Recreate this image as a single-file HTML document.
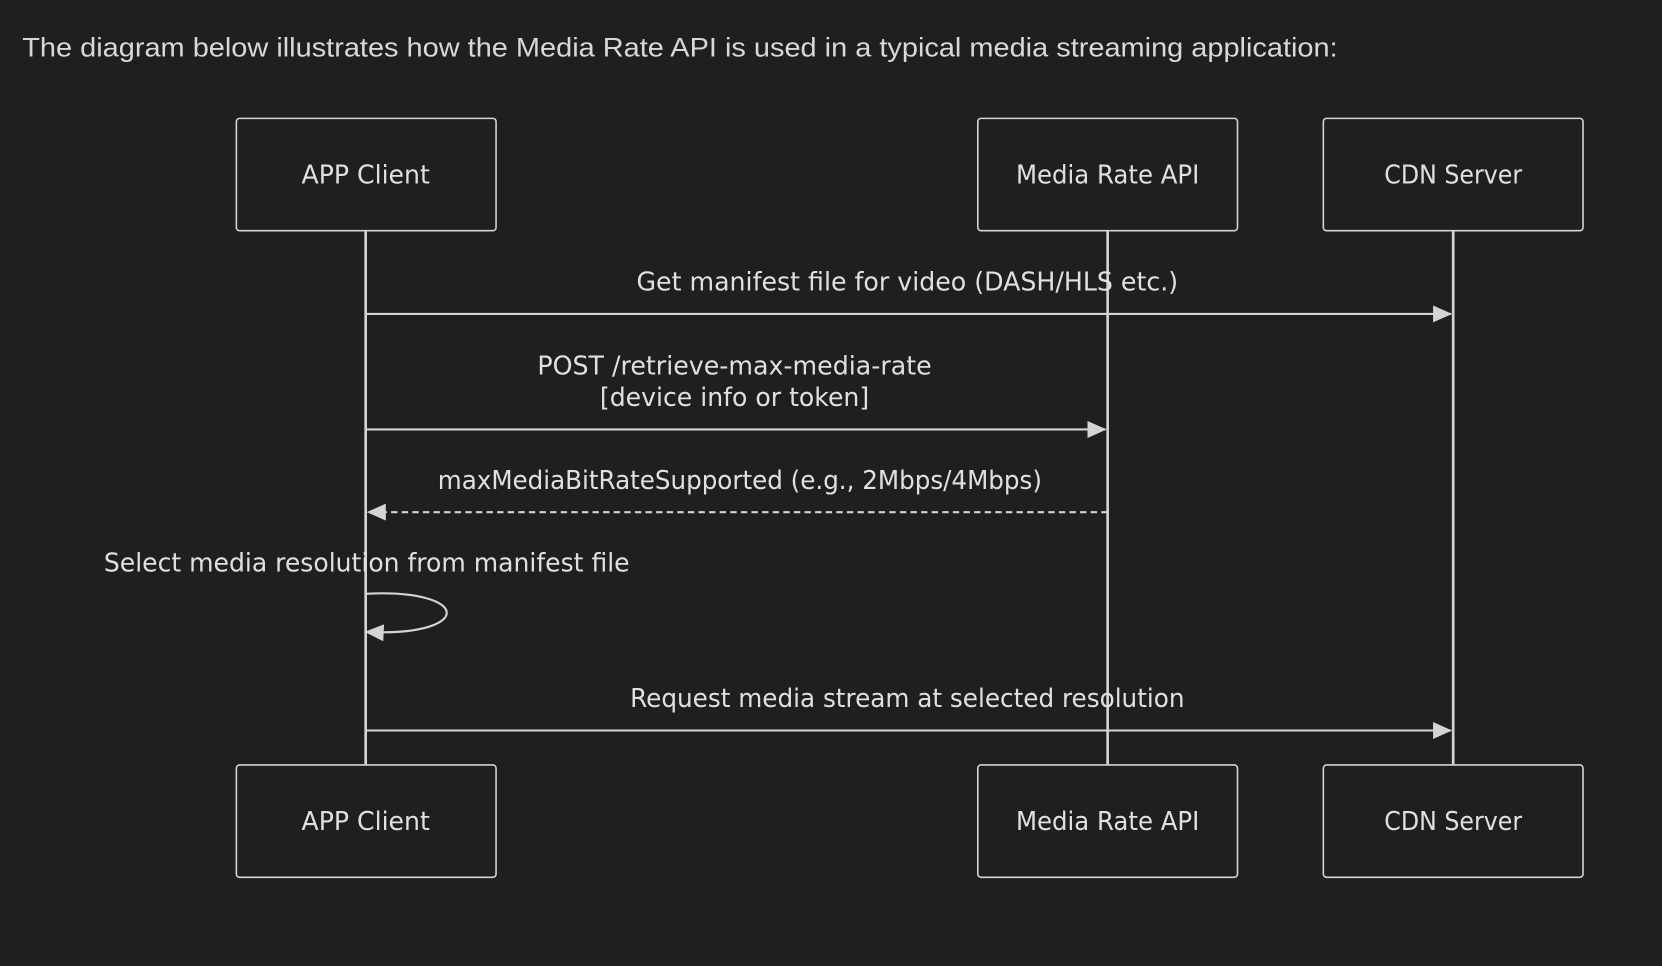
<!DOCTYPE html>
<html><head><meta charset="utf-8"><style>
html,body{margin:0;padding:0;background:#1f1f1f;}
svg{display:block;}
</style></head><body>
<svg width="1662" height="966" viewBox="0 0 1568 911" xmlns="http://www.w3.org/2000/svg">
<rect width="1568" height="911" fill="#1f1f1f"/>
<text x="21" y="53" font-family="Liberation Sans, sans-serif" font-size="25" fill="#d8d8d8" textLength="1241" lengthAdjust="spacingAndGlyphs">The diagram below illustrates how the Media Rate API is used in a typical media streaming application:</text>
<defs>
<marker id="ah" markerWidth="18" markerHeight="16" refX="17" refY="8" orient="auto" markerUnits="userSpaceOnUse">
<path d="M0,0 L18,8 L0,16 Z" fill="#d4d4d4"/>
</marker>
</defs>
<g stroke="#d4d4d4" stroke-width="2.5" fill="none">
<line x1="345" y1="217" x2="345" y2="721"/>
<line x1="1045" y1="217" x2="1045" y2="721"/>
<line x1="1371" y1="217" x2="1371" y2="721"/>
</g>
<g stroke="#d4d4d4" stroke-width="1.5" fill="#1f1f1f">
<rect x="223" y="111.5" width="245" height="106" rx="3"/>
<rect x="922.5" y="111.5" width="245" height="106" rx="3"/>
<rect x="1248.5" y="111.5" width="245" height="106" rx="3"/>
<rect x="223" y="721.5" width="245" height="106" rx="3"/>
<rect x="922.5" y="721.5" width="245" height="106" rx="3"/>
<rect x="1248.5" y="721.5" width="245" height="106" rx="3"/>
</g>
<g font-family="DejaVu Sans, Liberation Sans, sans-serif" font-size="24" fill="#e0e0e0" text-anchor="middle">
<text x="345" y="173" textLength="121" lengthAdjust="spacingAndGlyphs">APP Client</text>
<text x="1045" y="173" textLength="173" lengthAdjust="spacingAndGlyphs">Media Rate API</text>
<text x="1371" y="173" textLength="130" lengthAdjust="spacingAndGlyphs">CDN Server</text>
<text x="345" y="783" textLength="121" lengthAdjust="spacingAndGlyphs">APP Client</text>
<text x="1045" y="783" textLength="173" lengthAdjust="spacingAndGlyphs">Media Rate API</text>
<text x="1371" y="783" textLength="130" lengthAdjust="spacingAndGlyphs">CDN Server</text>
<text x="856" y="274" textLength="511" lengthAdjust="spacingAndGlyphs">Get manifest file for video (DASH/HLS etc.)</text>
<text x="693" y="353" textLength="372" lengthAdjust="spacingAndGlyphs">POST /retrieve-max-media-rate</text>
<text x="693" y="383" textLength="254" lengthAdjust="spacingAndGlyphs">[device info or token]</text>
<text x="698" y="461" textLength="570" lengthAdjust="spacingAndGlyphs">maxMediaBitRateSupported (e.g., 2Mbps/4Mbps)</text>
<text x="346" y="539" textLength="496" lengthAdjust="spacingAndGlyphs">Select media resolution from manifest file</text>
<text x="856" y="667" textLength="523" lengthAdjust="spacingAndGlyphs">Request media stream at selected resolution</text>
</g>
<g stroke="#d4d4d4" stroke-width="2" fill="none">
<line x1="345" y1="296" x2="1369" y2="296" marker-end="url(#ah)"/>
<line x1="345" y1="405" x2="1043" y2="405" marker-end="url(#ah)"/>
<line x1="1045" y1="483" x2="347" y2="483" stroke-dasharray="6,4" marker-end="url(#ah)"/>
<path d="M345,560 C447,555 447,601 345,596" marker-end="url(#ah)"/>
<line x1="345" y1="689" x2="1369" y2="689" marker-end="url(#ah)"/>
</g>
</svg>
</body></html>
